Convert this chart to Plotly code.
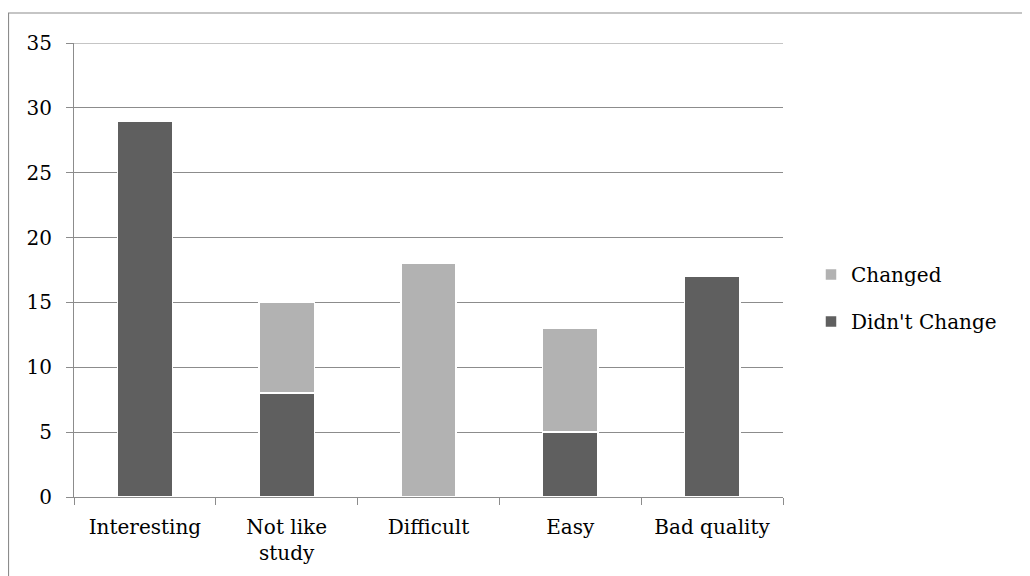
import plotly.graph_objects as go

categories = ["Interesting", "Not like<br>study", "Difficult", "Easy", "Bad quality"]
didnt_change = [29, 8, 0, 5, 17]
changed = [0, 7, 18, 8, 0]
y_ticks = [0, 5, 10, 15, 20, 25, 30, 35]

FONT = "DejaVu Serif"
GRID = "#8c8c8c"
FS = 20

fig = go.Figure()
fig.add_trace(go.Bar(x=categories, y=didnt_change, name="Didn't Change", legendgroup="a",
                     legendrank=2,
                     marker=dict(color="#5f5f5f", line=dict(color="white", width=1.5))))
fig.add_trace(go.Bar(x=categories, y=changed, name="Changed", legendgroup="b",
                     legendrank=1,
                     marker=dict(color="#b2b2b2", line=dict(color="white", width=1.5))))

# figure is offset by 8px page margin
FW, FH = 1022, 568
L, R, T, B = 66, 775, 35, 489
W, H = R - L, B - T

fig.update_layout(
    barmode="stack",
    bargap=0.61,
    width=FW, height=FH,
    margin=dict(l=L, r=FW - R, t=T, b=FH - B),
    paper_bgcolor="white", plot_bgcolor="white",
    font=dict(family=FONT, size=FS, color="black"),
    legend=dict(traceorder="grouped", x=(803 - L) / W, y=(B - 290) / H,
                xanchor="left", yanchor="middle", font=dict(size=FS),
                itemwidth=30, tracegroupgap=18),
    xaxis=dict(showline=True, linecolor=GRID, linewidth=1, ticks="outside",
               tickson="boundaries", ticklen=7, tickcolor=GRID, showgrid=False,
               ticklabelstandoff=12, tickfont=dict(size=FS)),
    yaxis=dict(range=[0, 35], tickvals=y_ticks, showline=True, linecolor=GRID,
               linewidth=1, ticks="outside", ticklen=7, tickcolor=GRID,
               showgrid=True, gridcolor=GRID, gridwidth=1, zeroline=False,
               ticklabelstandoff=10, tickfont=dict(size=FS)),
    shapes=[
        dict(type="rect", xref="paper", yref="paper",
             x0=(0.5 - L) / W, x1=(1040 - L) / W,
             y0=(B - 600) / H, y1=(B - 5) / H,
             line=dict(color="#8c8c8c", width=1.2), layer="below"),
        dict(type="line", xref="paper", yref="y", x0=0, x1=1, y0=35, y1=35,
             line=dict(color=GRID, width=1), layer="below"),
    ],
)

fig.write_html("out.html")
